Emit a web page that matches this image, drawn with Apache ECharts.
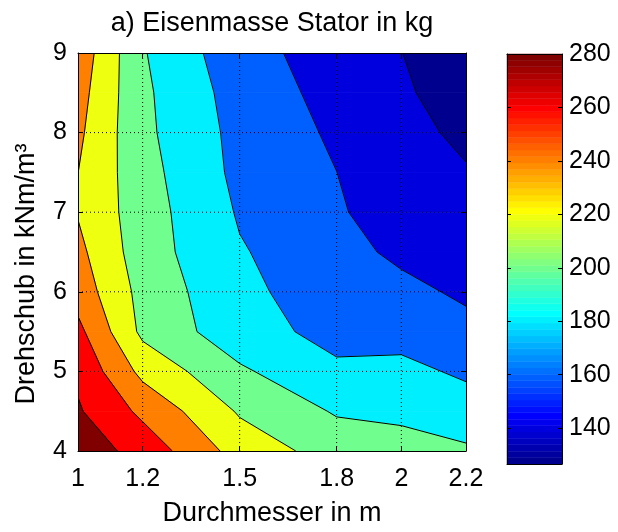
<!DOCTYPE html>
<html>
<head>
<meta charset="utf-8">
<script src="https://cdn.jsdelivr.net/npm/echarts@6/dist/echarts.min.js"></script>
<style>
  html, body { margin: 0; padding: 0; background: #fff; }
  #chart { width: 618px; height: 532px; }
</style>
</head>
<body>
<div id="chart"></div>
<script>
// Grid of the design study: rotor diameter (m) and thrust density (kNm/m³)
const diameters = [1, 1.2, 1.5, 1.8, 2, 2.2];
const thrusts = [4, 4.5, 5, 5.5, 6, 6.5, 7, 7.5, 8, 8.5, 9];

// Stator iron mass in kg along the thrust grid, one list per diameter
const massD100 = [291.8, 282.1, 276.0, 265.3, 251.4, 245.0, 238.8, 240.1, 243.9, 247.7, 252.8];
const massD120 = [272.4, 255.6, 234.5, 215.4, 213.5, 209.3, 209.0, 207.1, 204.5, 203.7, 201.6];
const massD150 = [231.8, 217.8, 203.0, 187.9, 184.5, 181.6, 178.1, 175.0, 174.0, 171.5, 167.0];
const massD180 = [211.4, 198.1, 183.4, 174.0, 170.0, 167.0, 163.0, 160.1, 156.9, 153.4, 151.5];
const massD200 = [206.0, 196.6, 186.8, 170.6, 165.4, 155.8, 146.8, 145.0, 143.0, 141.8, 140.3];
const massD220 = [202.0, 192.0, 175.8, 166.0, 156.6, 150.0, 145.5, 140.7, 138.0, 134.0, 126.6];

const contourLevels = [140, 160, 180, 200, 220, 240, 260, 280];
const xTicks = [1, 1.2, 1.5, 1.8, 2, 2.2];
const yTicks = [4, 5, 6, 7, 8, 9];
const colorbarTicks = [140, 160, 180, 200, 220, 240, 260, 280];

const FONT = "'Liberation Sans', Arial, Helvetica, sans-serif";
const massByDiameter = [massD100, massD120, massD150, massD180, massD200, massD220];
const cMin = Math.min(...massByDiameter.flat());
const cMax = contourLevels[contourLevels.length - 1];
const COLORS = 64;

// 64-step jet colormap, index 1..64
function jetByIndex(i) {
  const r = i <= 24 ? 0 : i <= 40 ? (i - 24) / 16 : i <= 56 ? 1 : 1 - (i - 56) / 16;
  const g = i <= 8 ? 0 : i <= 24 ? (i - 8) / 16 : i <= 40 ? 1 : i <= 56 ? 1 - (i - 40) / 16 : 0;
  const b = i <= 8 ? 0.5 + i / 16 : i <= 24 ? 1 : i <= 40 ? 1 - (i - 24) / 16 : 0;
  return 'rgb(' + Math.round(r * 255) + ',' + Math.round(g * 255) + ',' + Math.round(b * 255) + ')';
}
function jetColor(v) {
  let i = Math.floor((v - cMin) / (cMax - cMin) * COLORS) + 1;
  i = Math.max(1, Math.min(COLORS, i));
  return jetByIndex(i);
}

// Keep the part of a polygon where f >= 0 (values linear along edges)
function clip(poly, f) {
  const out = [];
  for (let k = 0; k < poly.length; k++) {
    const P = poly[k], Q = poly[(k + 1) % poly.length];
    const fp = f(P), fq = f(Q);
    if (fp >= 0) out.push(P);
    if ((fp >= 0) !== (fq >= 0)) {
      const t = fp / (fp - fq);
      out.push({ x: P.x + t * (Q.x - P.x), y: P.y + t * (Q.y - P.y), v: P.v + t * (Q.v - P.v) });
    }
  }
  return out;
}

function cellCorners(i, j) {
  return [[i, j], [i + 1, j], [i + 1, j + 1], [i, j + 1]].map(([a, b]) => ({
    x: diameters[a], y: thrusts[b], v: massByDiameter[a][b]
  }));
}

const cells = [];
for (let i = 0; i < diameters.length - 1; i++) {
  for (let j = 0; j < thrusts.length - 1; j++) {
    cells.push([diameters[i], thrusts[j], i, j]);
  }
}

// Filled bands of one grid cell
function renderFill(params, api) {
  const corners = cellCorners(api.value(2), api.value(3));
  const children = [];
  for (let k = 0; k <= contourLevels.length; k++) {
    const lo = k === 0 ? -Infinity : contourLevels[k - 1];
    const hi = k === contourLevels.length ? Infinity : contourLevels[k];
    let poly = clip(corners, p => p.v - lo);
    poly = clip(poly, p => hi - p.v);
    if (poly.length < 3) continue;
    const color = jetColor(k === 0 ? cMin : contourLevels[k - 1]);
    children.push({
      type: 'polygon',
      shape: { points: poly.map(p => api.coord([p.x, p.y])) },
      style: { fill: color, stroke: color, lineWidth: 0.8 }
    });
  }
  return { type: 'group', children };
}

// Iso-lines of one grid cell
function renderLines(params, api) {
  const corners = cellCorners(api.value(2), api.value(3));
  const children = [];
  const seg = (a, b) => children.push({
    type: 'line',
    shape: { x1: a[0], y1: a[1], x2: b[0], y2: b[1] },
    style: { stroke: '#000', lineWidth: 1 }
  });
  contourLevels.forEach(L => {
    const pts = [];
    for (let e = 0; e < 4; e++) {
      const P = corners[e], Q = corners[(e + 1) % 4];
      if ((P.v - L) * (Q.v - L) < 0) {
        const t = (L - P.v) / (Q.v - P.v);
        pts.push(api.coord([P.x + t * (Q.x - P.x), P.y + t * (Q.y - P.y)]));
      }
    }
    if (pts.length === 2) {
      seg(pts[0], pts[1]);
    } else if (pts.length === 4) {
      const c = corners.reduce((s, p) => s + p.v, 0) / 4;
      if ((c - L) * (corners[0].v - L) > 0) { seg(pts[0], pts[1]); seg(pts[2], pts[3]); }
      else { seg(pts[3], pts[0]); seg(pts[1], pts[2]); }
    }
  });
  return { type: 'group', children };
}

function dottedLine(a, b) {
  return {
    type: 'line',
    shape: { x1: a[0], y1: a[1], x2: b[0], y2: b[1] },
    style: { stroke: '#000', lineWidth: 1, lineDash: [1, 3] }
  };
}

const axisLineStyle = { show: true, onZero: false, lineStyle: { color: '#000', width: 1 } };
const tickText = { fontFamily: FONT, fontSize: 25, color: '#000' };

const chart = echarts.init(document.getElementById('chart'), null, { renderer: 'canvas' });
chart.setOption({
  animation: false,
  backgroundColor: '#fff',
  graphic: [
    {
      type: 'text', x: 272, y: 24, z: 20,
      style: {
        text: 'a) Eisenmasse Stator in kg', fontFamily: FONT, fontSize: 27, fill: '#000',
        textAlign: 'center', textVerticalAlign: 'middle', align: 'center', verticalAlign: 'middle'
      }
    },
    {
      type: 'text', x: 27, y: 274, rotation: Math.PI / 2, z: 20,
      style: {
        text: 'Drehschub in kNm/m³', fontFamily: FONT, fontSize: 27, fill: '#000',
        textAlign: 'center', textVerticalAlign: 'middle', align: 'center', verticalAlign: 'middle'
      }
    }
  ],
  grid: [
    { left: 78, top: 53, width: 388, height: 409 },
    { left: 507, top: 54, width: 55, height: 410 }
  ],
  xAxis: [
    {
      gridIndex: 0, type: 'value', min: 1, max: 2.2, position: 'bottom', z: 10,
      axisLine: axisLineStyle,
      axisTick: { show: true, inside: true, length: 5, customValues: xTicks, lineStyle: { color: '#000' } },
      axisLabel: { customValues: xTicks, formatter: v => String(v), margin: 16, ...tickText },
      splitLine: { show: false },
      name: 'Durchmesser in m', nameLocation: 'middle', nameGap: 49,
      nameTextStyle: { fontFamily: FONT, fontSize: 27, color: '#000' }
    },
    {
      gridIndex: 0, type: 'value', min: 1, max: 2.2, position: 'top', z: 10,
      axisLine: axisLineStyle,
      axisTick: { show: true, inside: true, length: 5, customValues: xTicks, lineStyle: { color: '#000' } },
      axisLabel: { show: false }, splitLine: { show: false }
    },
    {
      gridIndex: 1, type: 'value', min: 0, max: 1, position: 'bottom', z: 10,
      axisLine: axisLineStyle, axisTick: { show: false }, axisLabel: { show: false }, splitLine: { show: false }
    },
    {
      gridIndex: 1, type: 'value', min: 0, max: 1, position: 'top', z: 10,
      axisLine: axisLineStyle, axisTick: { show: false }, axisLabel: { show: false }, splitLine: { show: false }
    }
  ],
  yAxis: [
    {
      gridIndex: 0, type: 'value', min: 4, max: 9, interval: 1, position: 'left', z: 10,
      axisLine: axisLineStyle,
      axisTick: { show: true, inside: true, length: 5, lineStyle: { color: '#000' } },
      axisLabel: { margin: 11, ...tickText },
      splitLine: { show: false }
    },
    {
      gridIndex: 0, type: 'value', min: 4, max: 9, interval: 1, position: 'right', z: 10,
      axisLine: axisLineStyle,
      axisTick: { show: true, inside: true, length: 5, lineStyle: { color: '#000' } },
      axisLabel: { show: false }, splitLine: { show: false }
    },
    {
      gridIndex: 1, type: 'value', min: cMin, max: cMax, position: 'left', z: 10,
      axisLine: axisLineStyle,
      axisTick: { show: true, inside: true, length: 4, customValues: colorbarTicks, lineStyle: { color: '#000' } },
      axisLabel: { show: false }, splitLine: { show: false }
    },
    {
      gridIndex: 1, type: 'value', min: cMin, max: cMax, position: 'right', z: 10,
      axisLine: axisLineStyle,
      axisTick: { show: true, inside: true, length: 4, customValues: colorbarTicks, lineStyle: { color: '#000' } },
      axisLabel: { customValues: colorbarTicks, margin: 7, ...tickText },
      splitLine: { show: false }
    }
  ],
  series: [
    {
      name: 'Eisenmasse', type: 'custom', xAxisIndex: 0, yAxisIndex: 0, z: 1, clip: true,
      data: cells, encode: { x: 0, y: 1 }, renderItem: renderFill, silent: true
    },
    {
      name: 'Isolinien', type: 'custom', xAxisIndex: 0, yAxisIndex: 0, z: 2, clip: true,
      data: cells, encode: { x: 0, y: 1 }, renderItem: renderLines, silent: true
    },
    {
      name: 'Gitter x', type: 'custom', xAxisIndex: 0, yAxisIndex: 0, z: 3,
      data: xTicks.slice(1, -1).map(v => [v, yTicks[0]]), encode: { x: 0, y: 1 }, silent: true,
      renderItem: (params, api) => dottedLine(
        api.coord([api.value(0), yTicks[0]]), api.coord([api.value(0), yTicks[yTicks.length - 1]]))
    },
    {
      name: 'Gitter y', type: 'custom', xAxisIndex: 0, yAxisIndex: 0, z: 3,
      data: yTicks.slice(1, -1).map(v => [xTicks[0], v]), encode: { x: 0, y: 1 }, silent: true,
      renderItem: (params, api) => dottedLine(
        api.coord([xTicks[0], api.value(1)]), api.coord([xTicks[xTicks.length - 1], api.value(1)]))
    },
    {
      name: 'Farbskala', type: 'custom', xAxisIndex: 2, yAxisIndex: 2, z: 1, silent: true,
      data: Array.from({ length: COLORS }, (_, k) => [0, cMin + k * (cMax - cMin) / COLORS, k]),
      encode: { x: 0, y: 1 },
      renderItem: (params, api) => {
        const k = api.value(2);
        const lo = cMin + k * (cMax - cMin) / COLORS;
        const hi = cMin + (k + 1) * (cMax - cMin) / COLORS;
        const p0 = api.coord([0, lo]);
        const p1 = api.coord([1, hi]);
        const c = jetByIndex(k + 1);
        return {
          type: 'rect',
          shape: { x: p0[0], y: p1[1], width: p1[0] - p0[0], height: p0[1] - p1[1] },
          style: { fill: c, stroke: c, lineWidth: 0.5 }
        };
      }
    }
  ]
});
</script>
</body>
</html>
